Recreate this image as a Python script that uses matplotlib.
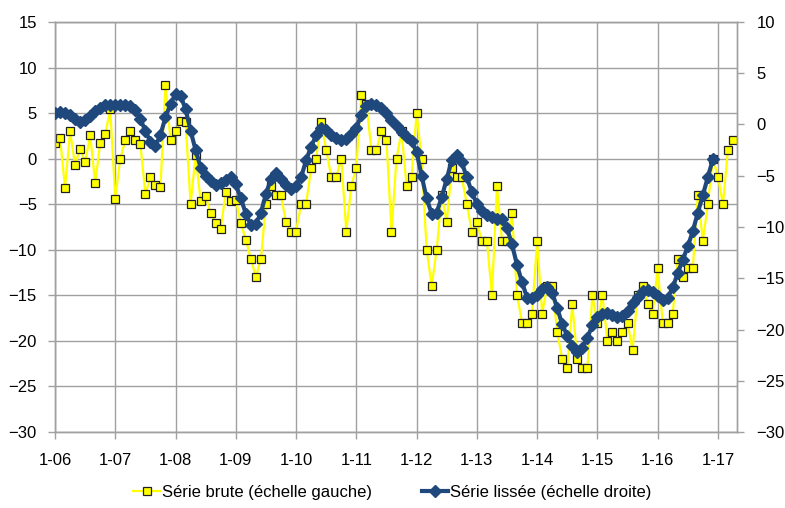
import numpy as np
import matplotlib
matplotlib.use("Agg")
import matplotlib.pyplot as plt

plt.rcParams['font.family'] = ['Liberation Sans', 'DejaVu Sans']

# Monthly observations starting January 2006
brute = [
    1.7, 2.3, -3.2, 3.0, -0.7, 1.1, -0.4, 2.6, -2.7, 1.7, 2.7, 5.4,
    -4.4, 0.0, 2.0, 3.0, 2.0, 1.6, -3.9, -2.0, -2.9, -3.1, 8.1, 2.0,
    3.0, 4.1, 4.0, -5.0, 0.4, -4.7, -4.1, -6.0, -7.1, -7.7, -3.7, -4.7,
    -4.5, -7.1, -8.9, -11.0, -13.0, -11.0, -5.0, -3.0, -4.0, -4.0, -7.0, -8.0,
    -8.0, -5.0, -5.0, -1.0, 0.0, 4.0, 1.0, -2.0, -2.0, 0.0, -8.0, -3.0,
    -1.0, 7.0, 6.0, 1.0, 1.0, 3.0, 2.0, -8.0, 0.0, 3.0, -3.0, -2.0,
    5.0, 0.0, -10.0, -14.0, -10.0, -4.0, -7.0, -1.0, -2.0, -2.0, -5.0, -8.0,
    -7.0, -9.0, -9.0, -15.0, -3.0, -9.0, -9.0, -6.0, -15.0, -18.0, -18.0, -17.0,
    -9.0, -17.0, -14.0, -14.0, -19.0, -22.0, -23.0, -16.0, -22.0, -23.0, -23.0, -15.0,
    -18.0, -15.0, -20.0, -19.0, -20.0, -19.0, -18.0, -21.0, -15.0, -14.0, -16.0, -17.0,
    -12.0, -18.0, -18.0, -17.0, -11.0, -13.0, -12.0, -12.0, -4.0, -9.0, -5.0, 0.0,
    -2.0, -5.0, 1.0, 2.0,
]

lissee = [
    1.1, 1.2, 1.15, 0.9, 0.5, 0.2, 0.4, 0.85, 1.3, 1.65, 1.9, 1.95,
    1.9, 1.9, 1.9, 1.8, 1.4, 0.5, -0.6, -1.7, -2.1, -1.0, 0.7, 2.0,
    3.0, 2.8, 1.5, -0.6, -2.5, -4.2, -5.05, -5.5, -5.9, -5.75, -5.4, -5.15,
    -5.85, -7.2, -8.7, -9.8, -9.7, -8.6, -6.8, -5.3, -4.75, -5.3, -5.9, -6.3,
    -6.0, -5.15, -3.5, -2.15, -1.07, -0.3, -0.5, -1.0, -1.3, -1.5, -1.4, -0.9,
    -0.3, 0.9, 1.8, 2.0, 1.9, 1.6, 1.1, 0.4, -0.1, -0.7, -1.2, -1.6,
    -2.7, -5.0, -7.2, -8.7, -8.6, -7.1, -5.3, -3.5, -3.0, -3.7, -5.15, -6.6,
    -7.75, -8.4, -8.8, -9.05, -9.2, -9.2, -10.1, -11.7, -13.7, -15.4, -16.9, -16.9,
    -16.6, -16.0, -15.9, -16.4, -17.9, -19.5, -20.6, -21.6, -22.2, -21.8, -20.8, -19.6,
    -18.8, -18.5, -18.4, -18.6, -18.8, -18.7, -18.2, -17.4, -16.8, -16.2, -16.1, -16.3,
    -16.7, -17.1, -16.9, -15.9, -14.5, -13.2, -11.9, -10.4, -8.6, -6.9, -5.1, -3.4,
]

year_labels = ['1-06', '1-07', '1-08', '1-09', '1-10', '1-11',
               '1-12', '1-13', '1-14', '1-15', '1-16', '1-17']

GRID = '#A0A0A0'
YELLOW = '#FFFF00'
BLUE = '#1F497D'

fig = plt.figure(figsize=(7.85, 5.08), dpi=100)
ax = fig.add_axes([55 / 785, 1 - 432 / 508, (737 - 55) / 785, (432 - 22) / 508])
ax2 = ax.twinx()

x_b = np.arange(len(brute))
x_l = np.arange(len(lissee))

l1, = ax.plot(x_b, brute, color=YELLOW, lw=1.6, marker='s', ms=5.5,
              mfc=YELLOW, mec='#202020', mew=0.9, zorder=3,
              label='Série brute (échelle gauche)')
l2, = ax2.plot(x_l, lissee, color=BLUE, lw=3.0, marker='D', ms=6.5,
               mfc=BLUE, mec=BLUE, zorder=4,
               label='Série lissée (échelle droite)')

ax.set_xlim(0, 135.8)
ax.set_ylim(-30, 15)
ax2.set_ylim(-30, 10)

ax.set_yticks(np.arange(-30, 16, 5))
ax2.set_yticks(np.arange(-30, 11, 5))
ax.set_xticks(np.arange(0, 12 * len(year_labels), 12))
ax.set_xticklabels(year_labels)

ax.grid(True, color=GRID, lw=1.0, zorder=0)
ax.set_axisbelow(True)

for a in (ax, ax2):
    for s in a.spines.values():
        s.set_color(GRID)
        s.set_linewidth(1.0)
    a.tick_params(colors=GRID, labelcolor='black', labelsize=12,
                  length=5, width=1.0, direction='out')

ax.tick_params(axis='y', pad=8)
ax2.tick_params(axis='y', pad=9)
ax.tick_params(axis='x', pad=10)

fig.legend(handles=[l1, l2], loc='center', bbox_to_anchor=(0.5, 0.031),
           ncol=2, frameon=False, fontsize=12, handlelength=1.6,
           handletextpad=0.1, columnspacing=3.0, borderaxespad=0)

fig.savefig('out.png', dpi=100)
